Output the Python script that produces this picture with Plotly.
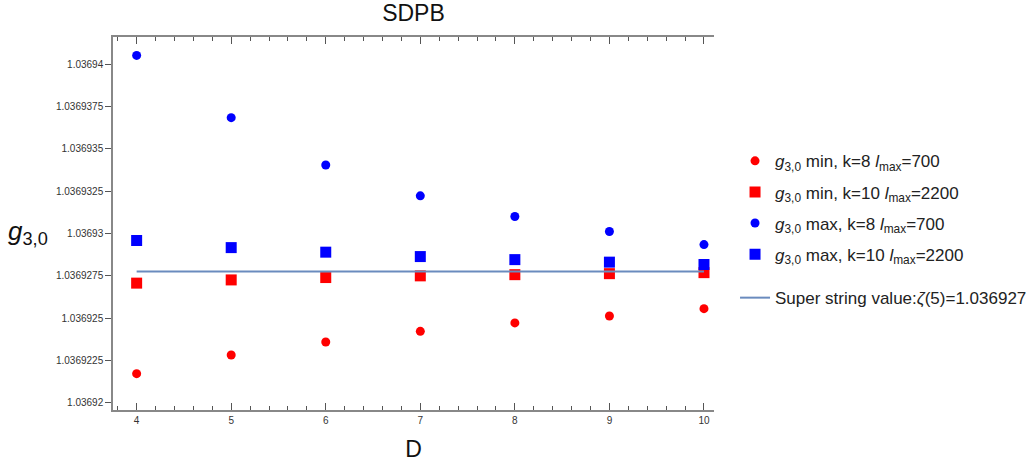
import plotly.graph_objects as go

D = [4, 5, 6, 7, 8, 9, 10]
min_k8 = [1.03692172, 1.03692282, 1.03692359, 1.03692422, 1.03692472, 1.03692513, 1.03692556]
min_k10 = [1.03692707, 1.03692726, 1.03692740, 1.03692750, 1.03692757, 1.03692763, 1.03692769]
max_k8 = [1.03694053, 1.03693685, 1.03693405, 1.03693223, 1.03693101, 1.03693012, 1.03692935]
max_k10 = [1.03692959, 1.03692917, 1.03692890, 1.03692864, 1.03692846, 1.03692831, 1.03692817]
zeta5 = 1.0369277551
line_x = [4, 10]

ytick_vals = [1.03692, 1.0369225, 1.036925, 1.0369275, 1.03693, 1.0369325, 1.036935, 1.0369375, 1.03694]
ytick_text = ["1.03692", "1.0369225", "1.036925", "1.0369275", "1.03693", "1.0369325", "1.036935", "1.0369375", "1.03694"]
right_ticks = [1.03692 + i * 1e-6 for i in range(22)]

names = [
    "<i>g</i><sub>3,0</sub> min, k=8 <i>l</i><sub>max</sub>=700",
    "<i>g</i><sub>3,0</sub> min, k=10 <i>l</i><sub>max</sub>=2200",
    "<i>g</i><sub>3,0</sub> max, k=8 <i>l</i><sub>max</sub>=700",
    "<i>g</i><sub>3,0</sub> max, k=10 <i>l</i><sub>max</sub>=2200",
]

FONT = "Liberation Sans, Arial, sans-serif"
W, H = 1030, 462
L, T, R, B = 113, 37, 316, 52
PW, PH = W - L - R, H - T - B

fig = go.Figure()
series = [(min_k8, "#FF0000", "circle", 9), (min_k10, "#FF0000", "square", 11),
          (max_k8, "#0000FF", "circle", 9), (max_k10, "#0000FF", "square", 11)]
for i, (vals, col, sym, sz) in enumerate(series):
    fig.add_trace(go.Scatter(x=D, y=vals, mode="markers", name=names[i],
                             marker=dict(color=col, symbol=sym, size=sz, line=dict(width=0)),
                             legendgroup=f"g{i}", legend="legend"))
fig.add_trace(go.Scatter(x=line_x, y=[zeta5, zeta5], mode="lines",
                         name="Super string value:<i>ζ</i>(5)=1.036927",
                         line=dict(color="#6A8BBE", width=2), legend="legend2"))

yr = [1.03691957, 1.03694162]
fig.update_layout(
    width=W, height=H,
    margin=dict(l=L, r=R, t=T, b=B, autoexpand=False),
    plot_bgcolor="white", paper_bgcolor="white",
    font=dict(family=FONT, color="#222"),
    title=dict(text="SDPB", x=(L + PW / 2) / W, xanchor="center",
               y=1 - 13 / H, yanchor="middle", font=dict(size=23, color="#111")),
    xaxis=dict(range=[3.75, 10.106], tickvals=D, ticktext=[str(d) for d in D],
               ticks="inside", ticklen=7, tickwidth=1, tickcolor="#555",
               showline=True, linecolor="#888", linewidth=1.5, mirror="allticks",
               showgrid=False, zeroline=False, automargin=False,
               tickfont=dict(size=10, color="#333"),
               minor=dict(dtick=0.2, ticks="inside", ticklen=4, tickcolor="#555", showgrid=False),
               title=dict(text="D", font=dict(size=23, color="#111"), standoff=19)),
    yaxis=dict(range=yr, tickvals=ytick_vals, ticktext=ytick_text,
               ticks="outside", ticklen=6, tickcolor="#555", automargin=False,
               showline=True, linecolor="#888", linewidth=1.5, mirror=False,
               showgrid=False, zeroline=False,
               tickfont=dict(size=10, color="#333")),
    yaxis2=dict(range=yr, overlaying="y", side="right", tickvals=right_ticks,
                showticklabels=False, ticks="inside", ticklen=5, tickcolor="#555",
                showline=True, linecolor="#888", linewidth=1.5, automargin=False,
                showgrid=False, zeroline=False),
    legend=dict(x=1.035, xanchor="left", y=0.715, yanchor="top",
                font=dict(size=17, color="#222"), tracegroupgap=6,
                itemwidth=30, bgcolor="rgba(0,0,0,0)"),
    legend2=dict(x=1.035, xanchor="left", y=0.30, yanchor="middle",
                 font=dict(size=17, color="#222"), itemwidth=30,
                 bgcolor="rgba(0,0,0,0)"),
    annotations=[dict(text="<i>g</i><sub>3,0</sub>", xref="paper", yref="paper",
                      x=-(L - 6) / PW, xanchor="left", y=(410 - 232) / PH, yanchor="middle",
                      showarrow=False, font=dict(size=26, color="#111"))],
)
fig.write_html("out.html", config={"displayModeBar": False},
               post_script="document.body.style.margin='0';")
